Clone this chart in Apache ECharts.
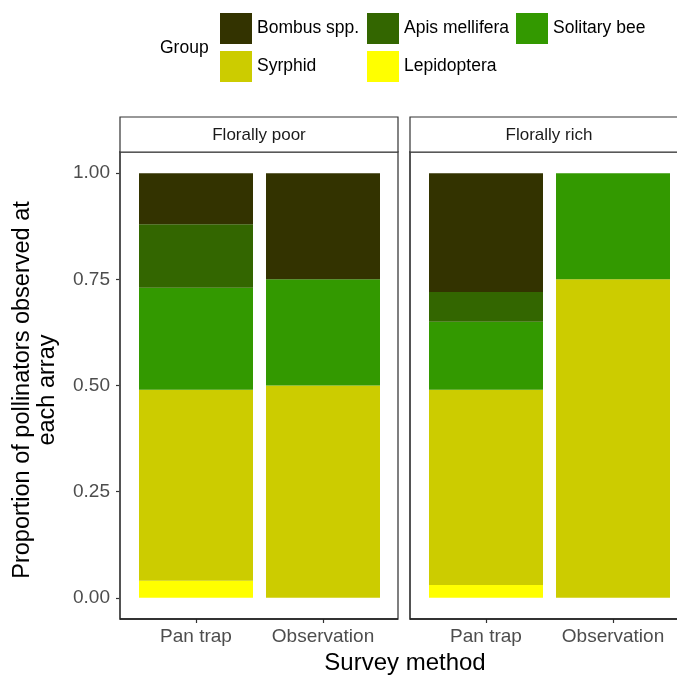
<!DOCTYPE html>
<html>
<head>
<meta charset="utf-8">
<script src="https://cdn.jsdelivr.net/npm/echarts@6/dist/echarts.min.js"></script>
<style>
  html, body { margin: 0; padding: 0; background: #fff; }
  #chart { width: 677px; height: 675px; }
</style>
</head>
<body>
<div id="chart"></div>
<script>
// Survey methods on the x axis
const methods = ['Pan trap', 'Observation'];
// Facet panels
const panels = ['Florally poor', 'Florally rich'];
// Pollinator groups, legend order
const groups = ['Bombus spp.', 'Apis mellifera', 'Solitary bee', 'Syrphid', 'Lepidoptera'];
const groupColors = ['#333300', '#336600', '#339900', '#CCCC00', '#FFFF00'];
// Stacking order from bottom to top
const stackOrder = ['Lepidoptera', 'Syrphid', 'Solitary bee', 'Apis mellifera', 'Bombus spp.'];

// Proportions per method [Pan trap, Observation], florally poor
const poorBombus = [0.12, 0.25];
const poorApis = [0.15, 0.00];
const poorSolitary = [0.24, 0.25];
const poorSyrphid = [0.45, 0.50];
const poorLepidoptera = [0.04, 0.00];

// Florally rich
const richBombus = [0.28, 0.00];
const richApis = [0.07, 0.00];
const richSolitary = [0.16, 0.25];
const richSyrphid = [0.46, 0.75];
const richLepidoptera = [0.03, 0.00];

// Y tick values
const yTicks = [0, 0.25, 0.5, 0.75, 1];

const panelData = [
  { 'Bombus spp.': poorBombus, 'Apis mellifera': poorApis, 'Solitary bee': poorSolitary, 'Syrphid': poorSyrphid, 'Lepidoptera': poorLepidoptera },
  { 'Bombus spp.': richBombus, 'Apis mellifera': richApis, 'Solitary bee': richSolitary, 'Syrphid': richSyrphid, 'Lepidoptera': richLepidoptera }
];

const FONT = '"Liberation Sans", Arial, sans-serif';
// Panel frames (left edge, width) and the category band inside each one
const panelLeft = [120, 410];
const panelW = 278;
const padX = 12.5;            // panel edge to first category band
const gridTop = 152, gridH = 467;

const chart = echarts.init(document.getElementById('chart'), null, { renderer: 'canvas' });

const grids = panelLeft.map(l => ({
  left: l + padX, top: gridTop, width: 254, height: gridH, show: false
}));

const xAxes = panelLeft.map((l, i) => ({
  type: 'category', gridIndex: i, data: methods, boundaryGap: true,
  axisLine: { show: false, onZero: false },
  axisTick: { show: true, interval: 0, alignWithLabel: true, length: 4, lineStyle: { color: '#333', width: 1.2 } },
  axisLabel: { show: true, interval: 0, hideOverlap: false, margin: 8, fontFamily: FONT, fontSize: 19, color: '#4d4d4d' },
  splitLine: { show: false }
}));

const yAxes = panelLeft.map((l, i) => ({
  type: 'value', gridIndex: i, min: -0.05, max: 1.05, offset: padX,
  axisLine: { show: true, onZero: false, lineStyle: { color: '#1a1a1a', width: 1.5 } },
  axisTick: { show: i === 0, length: 4, customValues: yTicks, lineStyle: { color: '#333', width: 1.2 } },
  axisLabel: {
    show: i === 0, customValues: yTicks, margin: 10,
    fontFamily: FONT, fontSize: 19, color: '#4d4d4d',
    formatter: v => v.toFixed(2)
  },
  splitLine: { show: false }
}));

const series = [];
panelData.forEach((pd, pi) => {
  stackOrder.forEach(g => {
    const ci = groups.indexOf(g);
    series.push({
      name: g, type: 'bar', xAxisIndex: pi, yAxisIndex: pi,
      stack: 'panel' + pi, barWidth: 114,
      itemStyle: { color: groupColors[ci] },
      emphasis: { disabled: true },
      data: pd[g]
    });
  });
});

const legendBase = {
  orient: 'vertical', top: 13, itemWidth: 32, itemHeight: 31, itemGap: 7,
  icon: 'rect', selectedMode: false,
  textStyle: { fontFamily: FONT, fontSize: 17.5, color: '#000' },
  padding: 0
};
const legends = [
  Object.assign({}, legendBase, { left: 220, data: [groups[0], groups[3]] }),
  Object.assign({}, legendBase, { left: 367, data: [groups[1], groups[4]] }),
  Object.assign({}, legendBase, { left: 516, data: [groups[2]] })
];

const graphic = [
  {
    type: 'text', x: 160, y: 48,
    style: { text: 'Group', font: '17.5px ' + FONT, fill: '#000', align: 'left', verticalAlign: 'middle' }
  },
  // y axis title
  {
    type: 'text', x: 35, y: 390, rotation: Math.PI / 2,
    style: {
      text: 'Proportion of pollinators observed at\neach array',
      font: '23.5px ' + FONT, fill: '#000', align: 'center', verticalAlign: 'middle', lineHeight: 25
    }
  },
  // x axis title
  {
    type: 'text', x: 405, y: 663,
    style: { text: 'Survey method', font: '24px ' + FONT, fill: '#000', align: 'center', verticalAlign: 'middle' }
  }
];
// panel frames, bottom axis lines and facet strips
panels.forEach((p, i) => {
  const x0 = panelLeft[i];
  graphic.push({
    type: 'rect', shape: { x: x0, y: gridTop, width: panelW, height: gridH },
    style: { fill: null, stroke: '#555', lineWidth: 1.5 }, z: 1
  });
  graphic.push({
    type: 'line', shape: { x1: x0, y1: gridTop + gridH, x2: x0 + panelW, y2: gridTop + gridH },
    style: { stroke: '#1a1a1a', lineWidth: 1.5 }, z: 2
  });
  graphic.push({
    type: 'rect', shape: { x: x0, y: 117, width: panelW, height: 35 },
    style: { fill: '#fff', stroke: '#333', lineWidth: 1.2 }, z: 10
  });
  graphic.push({
    type: 'text', x: x0 + (i === 0 ? panelW / 2 : 139), y: 135, z: 11,
    style: { text: p, font: '17px ' + FONT, fill: '#1a1a1a', align: 'center', verticalAlign: 'middle' }
  });
});

chart.setOption({
  animation: false,
  backgroundColor: '#fff',
  grid: grids,
  xAxis: xAxes,
  yAxis: yAxes,
  legend: legends,
  graphic: graphic,
  series: series
});
</script>
</body>
</html>
